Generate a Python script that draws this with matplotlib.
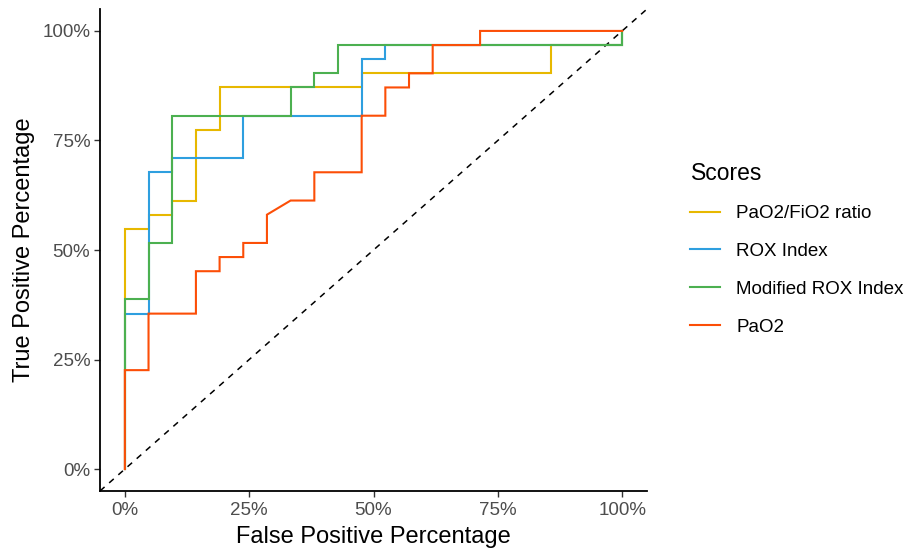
import matplotlib
matplotlib.use("Agg")
import matplotlib.pyplot as plt
from matplotlib.ticker import FuncFormatter

plt.rcParams['font.family'] = ['Liberation Sans', 'DejaVu Sans']

# ROC curve points (percent)
score_names = ["PaO2/FiO2 ratio", "ROX Index", "Modified ROX Index", "PaO2"]
score_colors = ["#E7B800", "#2E9FDF", "#4CB050", "#FC4E07"]

fpr_pf = [0, 0, 4.76, 4.76, 9.52, 9.52, 14.29, 14.29, 19.05, 19.05, 47.62, 47.62, 85.71, 85.71, 100, 100]
tpr_pf = [0, 54.84, 54.84, 58.06, 58.06, 61.29, 61.29, 77.42, 77.42, 87.10, 87.10, 90.32, 90.32, 96.77, 96.77, 100]

fpr_rox = [0, 0, 4.76, 4.76, 9.52, 9.52, 23.81, 23.81, 47.62, 47.62, 52.38, 52.38, 100, 100]
tpr_rox = [0, 35.48, 35.48, 67.74, 67.74, 70.97, 70.97, 80.65, 80.65, 93.55, 93.55, 96.77, 96.77, 100]

fpr_mrox = [0, 0, 4.76, 4.76, 9.52, 9.52, 33.33, 33.33, 38.10, 38.10, 42.86, 42.86, 100, 100]
tpr_mrox = [0, 38.71, 38.71, 51.61, 51.61, 80.65, 80.65, 87.10, 87.10, 90.32, 90.32, 96.77, 96.77, 100]

fpr_pao2 = [0, 0, 4.76, 4.76, 14.29, 14.29, 19.05, 19.05, 23.81, 23.81, 28.57, 28.57, 33.33, 38.10,
            38.10, 47.62, 47.62, 52.38, 52.38, 57.14, 57.14, 61.90, 61.90, 71.43, 71.43, 100]
tpr_pao2 = [0, 22.58, 22.58, 35.48, 35.48, 45.16, 45.16, 48.39, 48.39, 51.61, 51.61, 58.06, 61.29, 61.29,
            67.74, 67.74, 80.65, 80.65, 87.10, 87.10, 90.32, 90.32, 96.77, 96.77, 100, 100]

curves = [(fpr_pf, tpr_pf), (fpr_rox, tpr_rox), (fpr_mrox, tpr_mrox), (fpr_pao2, tpr_pao2)]

fig = plt.figure(figsize=(9.14, 5.5), dpi=100)
ax = fig.add_axes([0.1094, 0.1073, 0.5985, 0.8763])

ax.axline((0, 0), slope=1, color="black", lw=1.1, ls=(0, (4, 4)))

for (x, y), name, col in zip(curves, score_names, score_colors):
    ax.plot(x, y, color=col, lw=1.5, label=name, solid_joinstyle="miter")

ax.set_xlim(-5, 105)
ax.set_ylim(-5, 105)
ticks = [0, 25, 50, 75, 100]
ax.set_xticks(ticks)
ax.set_yticks(ticks)
pct = FuncFormatter(lambda v, p: f"{int(v)}%")
ax.xaxis.set_major_formatter(pct)
ax.yaxis.set_major_formatter(pct)

for side in ["top", "right"]:
    ax.spines[side].set_visible(False)
for side in ["left", "bottom"]:
    ax.spines[side].set_linewidth(1.3)
    ax.spines[side].set_color("black")
ax.tick_params(length=4, width=1.0, color="#333333", labelcolor="#4D4D4D", labelsize=13.5, pad=3)
ax.tick_params(axis="x", pad=4)

ax.set_xlabel("False Positive Percentage", fontsize=17, labelpad=5)
ax.set_ylabel("True Positive Percentage", fontsize=17, labelpad=5)

leg = fig.legend(loc="upper left", bbox_to_anchor=(0.737, 0.737), frameon=False,
                 title="Scores", title_fontsize=16.5, fontsize=13.5,
                 handlelength=1.6, handletextpad=0.85, labelspacing=1.1)
leg._legend_box.align = "left"

fig.savefig("out.png", dpi=100)
